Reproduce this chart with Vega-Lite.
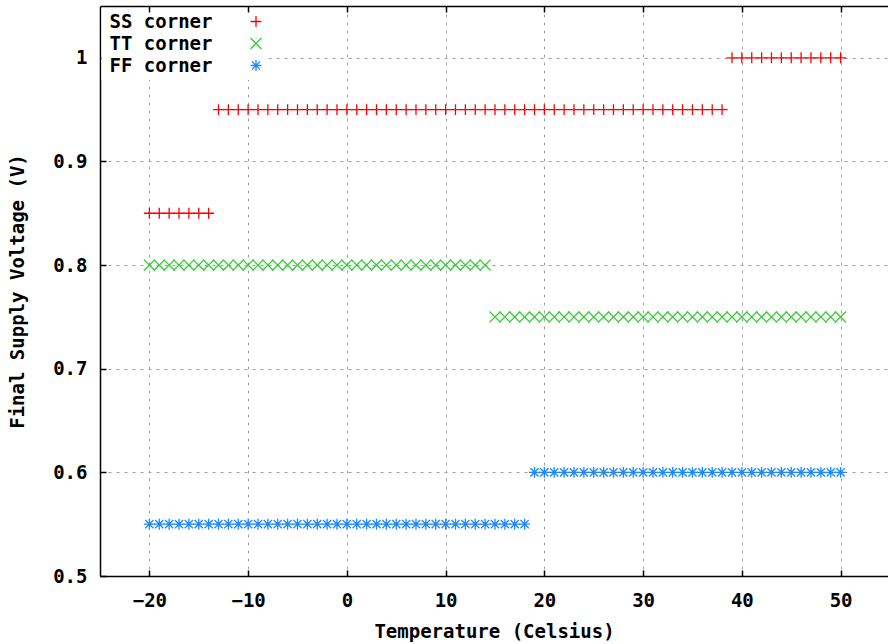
{
  "$schema": "https://vega.github.io/schema/vega-lite/v6.json",
  "width": 788,
  "height": 570,
  "autosize": {"type": "none"},
  "padding": {"left": 100, "top": 6, "right": 0, "bottom": 68},
  "background": "white",
  "config": {
    "view": {"stroke": null},
    "font": "DejaVu Sans Mono",
    "axis": {
      "labelFont": "DejaVu Sans Mono",
      "labelFontSize": 19,
      "labelFontWeight": "bold",
      "labelColor": "black",
      "titleFont": "DejaVu Sans Mono",
      "titleFontSize": 19,
      "titleFontWeight": "bold",
      "titleColor": "black",
      "domainColor": "black",
      "domainWidth": 1.5,
      "tickColor": "black",
      "tickWidth": 1.5,
      "tickSize": -6,
      "gridColor": "#a0a0a0",
      "gridDash": [3, 5],
      "gridWidth": 1,
      "gridOpacity": 1
    }
  },
  "data": {"values": [
    {"t": -20, "v": 0.85, "c": "SS corner"}, {"t": -19, "v": 0.85, "c": "SS corner"}, {"t": -18, "v": 0.85, "c": "SS corner"}, {"t": -17, "v": 0.85, "c": "SS corner"}, {"t": -16, "v": 0.85, "c": "SS corner"}, {"t": -15, "v": 0.85, "c": "SS corner"}, {"t": -14, "v": 0.85, "c": "SS corner"},
    {"t": -13, "v": 0.95, "c": "SS corner"}, {"t": -12, "v": 0.95, "c": "SS corner"}, {"t": -11, "v": 0.95, "c": "SS corner"}, {"t": -10, "v": 0.95, "c": "SS corner"}, {"t": -9, "v": 0.95, "c": "SS corner"}, {"t": -8, "v": 0.95, "c": "SS corner"}, {"t": -7, "v": 0.95, "c": "SS corner"}, {"t": -6, "v": 0.95, "c": "SS corner"}, {"t": -5, "v": 0.95, "c": "SS corner"}, {"t": -4, "v": 0.95, "c": "SS corner"}, {"t": -3, "v": 0.95, "c": "SS corner"}, {"t": -2, "v": 0.95, "c": "SS corner"}, {"t": -1, "v": 0.95, "c": "SS corner"}, {"t": 0, "v": 0.95, "c": "SS corner"}, {"t": 1, "v": 0.95, "c": "SS corner"}, {"t": 2, "v": 0.95, "c": "SS corner"}, {"t": 3, "v": 0.95, "c": "SS corner"}, {"t": 4, "v": 0.95, "c": "SS corner"}, {"t": 5, "v": 0.95, "c": "SS corner"}, {"t": 6, "v": 0.95, "c": "SS corner"}, {"t": 7, "v": 0.95, "c": "SS corner"}, {"t": 8, "v": 0.95, "c": "SS corner"}, {"t": 9, "v": 0.95, "c": "SS corner"}, {"t": 10, "v": 0.95, "c": "SS corner"}, {"t": 11, "v": 0.95, "c": "SS corner"}, {"t": 12, "v": 0.95, "c": "SS corner"}, {"t": 13, "v": 0.95, "c": "SS corner"}, {"t": 14, "v": 0.95, "c": "SS corner"}, {"t": 15, "v": 0.95, "c": "SS corner"}, {"t": 16, "v": 0.95, "c": "SS corner"}, {"t": 17, "v": 0.95, "c": "SS corner"}, {"t": 18, "v": 0.95, "c": "SS corner"}, {"t": 19, "v": 0.95, "c": "SS corner"}, {"t": 20, "v": 0.95, "c": "SS corner"}, {"t": 21, "v": 0.95, "c": "SS corner"}, {"t": 22, "v": 0.95, "c": "SS corner"}, {"t": 23, "v": 0.95, "c": "SS corner"}, {"t": 24, "v": 0.95, "c": "SS corner"}, {"t": 25, "v": 0.95, "c": "SS corner"}, {"t": 26, "v": 0.95, "c": "SS corner"}, {"t": 27, "v": 0.95, "c": "SS corner"}, {"t": 28, "v": 0.95, "c": "SS corner"}, {"t": 29, "v": 0.95, "c": "SS corner"}, {"t": 30, "v": 0.95, "c": "SS corner"}, {"t": 31, "v": 0.95, "c": "SS corner"}, {"t": 32, "v": 0.95, "c": "SS corner"}, {"t": 33, "v": 0.95, "c": "SS corner"}, {"t": 34, "v": 0.95, "c": "SS corner"}, {"t": 35, "v": 0.95, "c": "SS corner"}, {"t": 36, "v": 0.95, "c": "SS corner"}, {"t": 37, "v": 0.95, "c": "SS corner"}, {"t": 38, "v": 0.95, "c": "SS corner"},
    {"t": 39, "v": 1.0, "c": "SS corner"}, {"t": 40, "v": 1.0, "c": "SS corner"}, {"t": 41, "v": 1.0, "c": "SS corner"}, {"t": 42, "v": 1.0, "c": "SS corner"}, {"t": 43, "v": 1.0, "c": "SS corner"}, {"t": 44, "v": 1.0, "c": "SS corner"}, {"t": 45, "v": 1.0, "c": "SS corner"}, {"t": 46, "v": 1.0, "c": "SS corner"}, {"t": 47, "v": 1.0, "c": "SS corner"}, {"t": 48, "v": 1.0, "c": "SS corner"}, {"t": 49, "v": 1.0, "c": "SS corner"}, {"t": 50, "v": 1.0, "c": "SS corner"},
    {"t": -20, "v": 0.8, "c": "TT corner"}, {"t": -19, "v": 0.8, "c": "TT corner"}, {"t": -18, "v": 0.8, "c": "TT corner"}, {"t": -17, "v": 0.8, "c": "TT corner"}, {"t": -16, "v": 0.8, "c": "TT corner"}, {"t": -15, "v": 0.8, "c": "TT corner"}, {"t": -14, "v": 0.8, "c": "TT corner"}, {"t": -13, "v": 0.8, "c": "TT corner"}, {"t": -12, "v": 0.8, "c": "TT corner"}, {"t": -11, "v": 0.8, "c": "TT corner"}, {"t": -10, "v": 0.8, "c": "TT corner"}, {"t": -9, "v": 0.8, "c": "TT corner"}, {"t": -8, "v": 0.8, "c": "TT corner"}, {"t": -7, "v": 0.8, "c": "TT corner"}, {"t": -6, "v": 0.8, "c": "TT corner"}, {"t": -5, "v": 0.8, "c": "TT corner"}, {"t": -4, "v": 0.8, "c": "TT corner"}, {"t": -3, "v": 0.8, "c": "TT corner"}, {"t": -2, "v": 0.8, "c": "TT corner"}, {"t": -1, "v": 0.8, "c": "TT corner"}, {"t": 0, "v": 0.8, "c": "TT corner"}, {"t": 1, "v": 0.8, "c": "TT corner"}, {"t": 2, "v": 0.8, "c": "TT corner"}, {"t": 3, "v": 0.8, "c": "TT corner"}, {"t": 4, "v": 0.8, "c": "TT corner"}, {"t": 5, "v": 0.8, "c": "TT corner"}, {"t": 6, "v": 0.8, "c": "TT corner"}, {"t": 7, "v": 0.8, "c": "TT corner"}, {"t": 8, "v": 0.8, "c": "TT corner"}, {"t": 9, "v": 0.8, "c": "TT corner"}, {"t": 10, "v": 0.8, "c": "TT corner"}, {"t": 11, "v": 0.8, "c": "TT corner"}, {"t": 12, "v": 0.8, "c": "TT corner"}, {"t": 13, "v": 0.8, "c": "TT corner"}, {"t": 14, "v": 0.8, "c": "TT corner"},
    {"t": 15, "v": 0.75, "c": "TT corner"}, {"t": 16, "v": 0.75, "c": "TT corner"}, {"t": 17, "v": 0.75, "c": "TT corner"}, {"t": 18, "v": 0.75, "c": "TT corner"}, {"t": 19, "v": 0.75, "c": "TT corner"}, {"t": 20, "v": 0.75, "c": "TT corner"}, {"t": 21, "v": 0.75, "c": "TT corner"}, {"t": 22, "v": 0.75, "c": "TT corner"}, {"t": 23, "v": 0.75, "c": "TT corner"}, {"t": 24, "v": 0.75, "c": "TT corner"}, {"t": 25, "v": 0.75, "c": "TT corner"}, {"t": 26, "v": 0.75, "c": "TT corner"}, {"t": 27, "v": 0.75, "c": "TT corner"}, {"t": 28, "v": 0.75, "c": "TT corner"}, {"t": 29, "v": 0.75, "c": "TT corner"}, {"t": 30, "v": 0.75, "c": "TT corner"}, {"t": 31, "v": 0.75, "c": "TT corner"}, {"t": 32, "v": 0.75, "c": "TT corner"}, {"t": 33, "v": 0.75, "c": "TT corner"}, {"t": 34, "v": 0.75, "c": "TT corner"}, {"t": 35, "v": 0.75, "c": "TT corner"}, {"t": 36, "v": 0.75, "c": "TT corner"}, {"t": 37, "v": 0.75, "c": "TT corner"}, {"t": 38, "v": 0.75, "c": "TT corner"}, {"t": 39, "v": 0.75, "c": "TT corner"}, {"t": 40, "v": 0.75, "c": "TT corner"}, {"t": 41, "v": 0.75, "c": "TT corner"}, {"t": 42, "v": 0.75, "c": "TT corner"}, {"t": 43, "v": 0.75, "c": "TT corner"}, {"t": 44, "v": 0.75, "c": "TT corner"}, {"t": 45, "v": 0.75, "c": "TT corner"}, {"t": 46, "v": 0.75, "c": "TT corner"}, {"t": 47, "v": 0.75, "c": "TT corner"}, {"t": 48, "v": 0.75, "c": "TT corner"}, {"t": 49, "v": 0.75, "c": "TT corner"}, {"t": 50, "v": 0.75, "c": "TT corner"},
    {"t": -20, "v": 0.55, "c": "FF corner"}, {"t": -19, "v": 0.55, "c": "FF corner"}, {"t": -18, "v": 0.55, "c": "FF corner"}, {"t": -17, "v": 0.55, "c": "FF corner"}, {"t": -16, "v": 0.55, "c": "FF corner"}, {"t": -15, "v": 0.55, "c": "FF corner"}, {"t": -14, "v": 0.55, "c": "FF corner"}, {"t": -13, "v": 0.55, "c": "FF corner"}, {"t": -12, "v": 0.55, "c": "FF corner"}, {"t": -11, "v": 0.55, "c": "FF corner"}, {"t": -10, "v": 0.55, "c": "FF corner"}, {"t": -9, "v": 0.55, "c": "FF corner"}, {"t": -8, "v": 0.55, "c": "FF corner"}, {"t": -7, "v": 0.55, "c": "FF corner"}, {"t": -6, "v": 0.55, "c": "FF corner"}, {"t": -5, "v": 0.55, "c": "FF corner"}, {"t": -4, "v": 0.55, "c": "FF corner"}, {"t": -3, "v": 0.55, "c": "FF corner"}, {"t": -2, "v": 0.55, "c": "FF corner"}, {"t": -1, "v": 0.55, "c": "FF corner"}, {"t": 0, "v": 0.55, "c": "FF corner"}, {"t": 1, "v": 0.55, "c": "FF corner"}, {"t": 2, "v": 0.55, "c": "FF corner"}, {"t": 3, "v": 0.55, "c": "FF corner"}, {"t": 4, "v": 0.55, "c": "FF corner"}, {"t": 5, "v": 0.55, "c": "FF corner"}, {"t": 6, "v": 0.55, "c": "FF corner"}, {"t": 7, "v": 0.55, "c": "FF corner"}, {"t": 8, "v": 0.55, "c": "FF corner"}, {"t": 9, "v": 0.55, "c": "FF corner"}, {"t": 10, "v": 0.55, "c": "FF corner"}, {"t": 11, "v": 0.55, "c": "FF corner"}, {"t": 12, "v": 0.55, "c": "FF corner"}, {"t": 13, "v": 0.55, "c": "FF corner"}, {"t": 14, "v": 0.55, "c": "FF corner"}, {"t": 15, "v": 0.55, "c": "FF corner"}, {"t": 16, "v": 0.55, "c": "FF corner"}, {"t": 17, "v": 0.55, "c": "FF corner"}, {"t": 18, "v": 0.55, "c": "FF corner"},
    {"t": 19, "v": 0.6, "c": "FF corner"}, {"t": 20, "v": 0.6, "c": "FF corner"}, {"t": 21, "v": 0.6, "c": "FF corner"}, {"t": 22, "v": 0.6, "c": "FF corner"}, {"t": 23, "v": 0.6, "c": "FF corner"}, {"t": 24, "v": 0.6, "c": "FF corner"}, {"t": 25, "v": 0.6, "c": "FF corner"}, {"t": 26, "v": 0.6, "c": "FF corner"}, {"t": 27, "v": 0.6, "c": "FF corner"}, {"t": 28, "v": 0.6, "c": "FF corner"}, {"t": 29, "v": 0.6, "c": "FF corner"}, {"t": 30, "v": 0.6, "c": "FF corner"}, {"t": 31, "v": 0.6, "c": "FF corner"}, {"t": 32, "v": 0.6, "c": "FF corner"}, {"t": 33, "v": 0.6, "c": "FF corner"}, {"t": 34, "v": 0.6, "c": "FF corner"}, {"t": 35, "v": 0.6, "c": "FF corner"}, {"t": 36, "v": 0.6, "c": "FF corner"}, {"t": 37, "v": 0.6, "c": "FF corner"}, {"t": 38, "v": 0.6, "c": "FF corner"}, {"t": 39, "v": 0.6, "c": "FF corner"}, {"t": 40, "v": 0.6, "c": "FF corner"}, {"t": 41, "v": 0.6, "c": "FF corner"}, {"t": 42, "v": 0.6, "c": "FF corner"}, {"t": 43, "v": 0.6, "c": "FF corner"}, {"t": 44, "v": 0.6, "c": "FF corner"}, {"t": 45, "v": 0.6, "c": "FF corner"}, {"t": 46, "v": 0.6, "c": "FF corner"}, {"t": 47, "v": 0.6, "c": "FF corner"}, {"t": 48, "v": 0.6, "c": "FF corner"}, {"t": 49, "v": 0.6, "c": "FF corner"}, {"t": 50, "v": 0.6, "c": "FF corner"}
  ]},
  "layer": [
    {
      "mark": {"type": "point", "filled": false, "strokeWidth": 1.3, "size": 120, "opacity": 1},
      "encoding": {
        "x": {
          "field": "t", "type": "quantitative",
          "scale": {"domain": [-25, 54.8], "nice": false, "zero": false},
          "axis": {"title": "Temperature (Celsius)", "values": [-20, -10, 0, 10, 20, 30, 40, 50], "grid": true, "labelPadding": 21, "titlePadding": 12, "zindex": 0}
        },
        "y": {
          "field": "v", "type": "quantitative",
          "scale": {"domain": [0.5, 1.05], "nice": false, "zero": false},
          "axis": {"title": "Final Supply Voltage (V)", "values": [0.5, 0.6, 0.7, 0.8, 0.9, 1.0], "format": "~g", "grid": true, "labelPadding": 19, "titlePadding": 25, "zindex": 0}
        },
        "color": {
          "field": "c", "type": "nominal",
          "scale": {"domain": ["SS corner", "TT corner", "FF corner"], "range": ["#ff0000", "#33cc33", "#1e88ff"]},
          "legend": {
            "title": null, "orient": "none", "legendX": 1.5, "legendY": 2,
            "labelFont": "DejaVu Sans Mono", "labelFontSize": 19, "labelFontWeight": "bold", "labelColor": "black",
            "labelAlign": "left", "labelOffset": -156, "symbolOffset": 141,
            "symbolType": "M-1,0L1,0M0,-1L0,1",
            "symbolSize": 120, "symbolStrokeWidth": 1.3,
            "rowPadding": 2,
            "fillColor": "white", "padding": 4, "zindex": 1
          }
        },
        "shape": {
          "field": "c", "type": "nominal",
          "scale": {"domain": ["SS corner", "TT corner", "FF corner"], "range": ["M-1,0L1,0M0,-1L0,1", "M-1,-1L1,1M-1,1L1,-1", "M-1,0L1,0M0,-1L0,1M-0.75,-0.75L0.75,0.75M-0.75,0.75L0.75,-0.75"]},
          "legend": null
        }
      }
    },
    {
      "mark": {"type": "point", "opacity": 0},
      "encoding": {
        "x": {
          "field": "t", "type": "quantitative",
          "scale": {"domain": [-25, 54.8], "nice": false, "zero": false},
          "axis": {"orient": "top", "title": null, "labels": false, "grid": false, "values": [-20, -10, 0, 10, 20, 30, 40, 50], "zindex": 2}
        },
        "y": {"field": "v", "type": "quantitative"}
      }
    }
  ],
  "resolve": {"axis": {"x": "independent"}}
}
